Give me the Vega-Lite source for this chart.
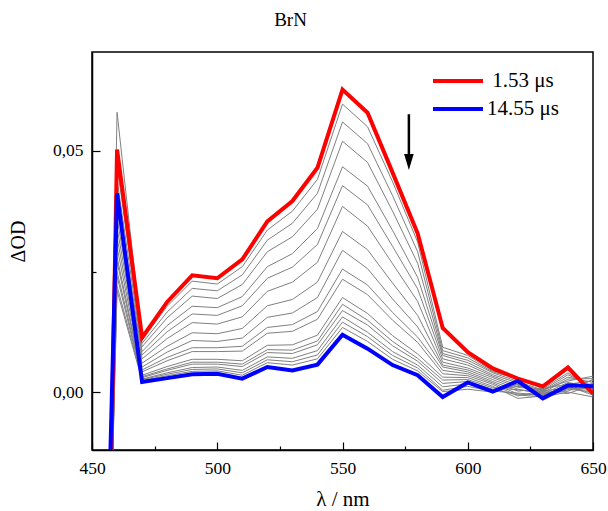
{
"$schema": "https://vega.github.io/schema/vega-lite/v6.json",
"width": 501, "height": 398,
"autosize": "none",
"padding": {"left": 92, "top": 52, "right": 15, "bottom": 61},
"background": "white",
"config": {"view": {"stroke": "black", "strokeWidth": 1.5}, "font": "Liberation Serif"},
"title": {"text": "BrN", "fontSize": 19, "font": "Liberation Serif", "fontWeight": "normal", "color": "black", "offset": 22, "dx": -52},
"datasets": {
"gray": [
{"s":"g1","x":455,"y":-0.08},{"s":"g1","x":460,"y":0.058},{"s":"g1","x":470,"y":0.0108},{"s":"g1","x":480,"y":0.0178},{"s":"g1","x":490,"y":0.0230},{"s":"g1","x":500,"y":0.0224},{"s":"g1","x":510,"y":0.0260},{"s":"g1","x":520,"y":0.0336},{"s":"g1","x":530,"y":0.0375},{"s":"g1","x":540,"y":0.0441},{"s":"g1","x":550,"y":0.0597},{"s":"g1","x":560,"y":0.0550},{"s":"g1","x":570,"y":0.0436},{"s":"g1","x":580,"y":0.0311},{"s":"g1","x":590,"y":0.0093},{"s":"g1","x":600,"y":0.0076},{"s":"g1","x":610,"y":0.0044},{"s":"g1","x":620,"y":0.0030},{"s":"g1","x":630,"y":0.0009},{"s":"g1","x":640,"y":0.0046},{"s":"g1","x":650,"y":0.0000},
{"s":"g2","x":455,"y":-0.08},{"s":"g2","x":460,"y":0.049},{"s":"g2","x":470,"y":0.0101},{"s":"g2","x":480,"y":0.0166},{"s":"g2","x":490,"y":0.0215},{"s":"g2","x":500,"y":0.0210},{"s":"g2","x":510,"y":0.0243},{"s":"g2","x":520,"y":0.0315},{"s":"g2","x":530,"y":0.0350},{"s":"g2","x":540,"y":0.0412},{"s":"g2","x":550,"y":0.0560},{"s":"g2","x":560,"y":0.0515},{"s":"g2","x":570,"y":0.0407},{"s":"g2","x":580,"y":0.0291},{"s":"g2","x":590,"y":0.0086},{"s":"g2","x":600,"y":0.0071},{"s":"g2","x":610,"y":0.0042},{"s":"g2","x":620,"y":0.0027},{"s":"g2","x":630,"y":0.0007},{"s":"g2","x":640,"y":0.0040},{"s":"g2","x":650,"y":0.0006},
{"s":"g3","x":455,"y":-0.08},{"s":"g3","x":460,"y":0.047},{"s":"g3","x":470,"y":0.0094},{"s":"g3","x":480,"y":0.0154},{"s":"g3","x":490,"y":0.0199},{"s":"g3","x":500,"y":0.0194},{"s":"g3","x":510,"y":0.0223},{"s":"g3","x":520,"y":0.0291},{"s":"g3","x":530,"y":0.0322},{"s":"g3","x":540,"y":0.0379},{"s":"g3","x":550,"y":0.0520},{"s":"g3","x":560,"y":0.0476},{"s":"g3","x":570,"y":0.0375},{"s":"g3","x":580,"y":0.0267},{"s":"g3","x":590,"y":0.0080},{"s":"g3","x":600,"y":0.0066},{"s":"g3","x":610,"y":0.0040},{"s":"g3","x":620,"y":0.0022},{"s":"g3","x":630,"y":0.0004},{"s":"g3","x":640,"y":0.0036},{"s":"g3","x":650,"y":0.0012},
{"s":"g4","x":455,"y":-0.08},{"s":"g4","x":460,"y":0.044},{"s":"g4","x":470,"y":0.0084},{"s":"g4","x":480,"y":0.0138},{"s":"g4","x":490,"y":0.0178},{"s":"g4","x":500,"y":0.0175},{"s":"g4","x":510,"y":0.0198},{"s":"g4","x":520,"y":0.0260},{"s":"g4","x":530,"y":0.0287},{"s":"g4","x":540,"y":0.0339},{"s":"g4","x":550,"y":0.0467},{"s":"g4","x":560,"y":0.0427},{"s":"g4","x":570,"y":0.0335},{"s":"g4","x":580,"y":0.0238},{"s":"g4","x":590,"y":0.0076},{"s":"g4","x":600,"y":0.0061},{"s":"g4","x":610,"y":0.0036},{"s":"g4","x":620,"y":0.0019},{"s":"g4","x":630,"y":0.0002},{"s":"g4","x":640,"y":0.0031},{"s":"g4","x":650,"y":0.0020},
{"s":"g5","x":455,"y":-0.08},{"s":"g5","x":460,"y":0.041},{"s":"g5","x":470,"y":0.0077},{"s":"g5","x":480,"y":0.0125},{"s":"g5","x":490,"y":0.0162},{"s":"g5","x":500,"y":0.0159},{"s":"g5","x":510,"y":0.0179},{"s":"g5","x":520,"y":0.0236},{"s":"g5","x":530,"y":0.0259},{"s":"g5","x":540,"y":0.0306},{"s":"g5","x":550,"y":0.0428},{"s":"g5","x":560,"y":0.0388},{"s":"g5","x":570,"y":0.0302},{"s":"g5","x":580,"y":0.0214},{"s":"g5","x":590,"y":0.0069},{"s":"g5","x":600,"y":0.0056},{"s":"g5","x":610,"y":0.0033},{"s":"g5","x":620,"y":0.0014},{"s":"g5","x":630,"y":-0.0001},{"s":"g5","x":640,"y":0.0027},{"s":"g5","x":650,"y":0.0028},
{"s":"g6","x":455,"y":-0.08},{"s":"g6","x":460,"y":0.039},{"s":"g6","x":470,"y":0.0069},{"s":"g6","x":480,"y":0.0111},{"s":"g6","x":490,"y":0.0144},{"s":"g6","x":500,"y":0.0141},{"s":"g6","x":510,"y":0.0156},{"s":"g6","x":520,"y":0.0209},{"s":"g6","x":530,"y":0.0228},{"s":"g6","x":540,"y":0.0269},{"s":"g6","x":550,"y":0.0385},{"s":"g6","x":560,"y":0.0344},{"s":"g6","x":570,"y":0.0266},{"s":"g6","x":580,"y":0.0188},{"s":"g6","x":590,"y":0.0062},{"s":"g6","x":600,"y":0.0050},{"s":"g6","x":610,"y":0.0030},{"s":"g6","x":620,"y":0.0010},{"s":"g6","x":630,"y":0.0005},{"s":"g6","x":640,"y":0.0023},{"s":"g6","x":650,"y":0.0033},
{"s":"g7","x":455,"y":-0.08},{"s":"g7","x":460,"y":0.036},{"s":"g7","x":470,"y":0.0060},{"s":"g7","x":480,"y":0.0095},{"s":"g7","x":490,"y":0.0123},{"s":"g7","x":500,"y":0.0121},{"s":"g7","x":510,"y":0.0132},{"s":"g7","x":520,"y":0.0179},{"s":"g7","x":530,"y":0.0192},{"s":"g7","x":540,"y":0.0228},{"s":"g7","x":550,"y":0.0333},{"s":"g7","x":560,"y":0.0295},{"s":"g7","x":570,"y":0.0226},{"s":"g7","x":580,"y":0.0159},{"s":"g7","x":590,"y":0.0056},{"s":"g7","x":600,"y":0.0046},{"s":"g7","x":610,"y":0.0026},{"s":"g7","x":620,"y":0.0006},{"s":"g7","x":630,"y":-0.0004},{"s":"g7","x":640,"y":0.0020},{"s":"g7","x":650,"y":0.0010},
{"s":"g8","x":455,"y":-0.08},{"s":"g8","x":460,"y":0.034},{"s":"g8","x":470,"y":0.0052},{"s":"g8","x":480,"y":0.0083},{"s":"g8","x":490,"y":0.0107},{"s":"g8","x":500,"y":0.0105},{"s":"g8","x":510,"y":0.0112},{"s":"g8","x":520,"y":0.0155},{"s":"g8","x":530,"y":0.0164},{"s":"g8","x":540,"y":0.0196},{"s":"g8","x":550,"y":0.0294},{"s":"g8","x":560,"y":0.0256},{"s":"g8","x":570,"y":0.0193},{"s":"g8","x":580,"y":0.0135},{"s":"g8","x":590,"y":0.0052},{"s":"g8","x":600,"y":0.0042},{"s":"g8","x":610,"y":0.0022},{"s":"g8","x":620,"y":0.0002},{"s":"g8","x":630,"y":0.0008},{"s":"g8","x":640,"y":0.0016},{"s":"g8","x":650,"y":0.0024},
{"s":"g9","x":455,"y":-0.08},{"s":"g9","x":460,"y":0.032},{"s":"g9","x":470,"y":0.0046},{"s":"g9","x":480,"y":0.0072},{"s":"g9","x":490,"y":0.0092},{"s":"g9","x":500,"y":0.0092},{"s":"g9","x":510,"y":0.0095},{"s":"g9","x":520,"y":0.0134},{"s":"g9","x":530,"y":0.0140},{"s":"g9","x":540,"y":0.0167},{"s":"g9","x":550,"y":0.0255},{"s":"g9","x":560,"y":0.0222},{"s":"g9","x":570,"y":0.0165},{"s":"g9","x":580,"y":0.0114},{"s":"g9","x":590,"y":0.0045},{"s":"g9","x":600,"y":0.0038},{"s":"g9","x":610,"y":0.0019},{"s":"g9","x":620,"y":-0.0004},{"s":"g9","x":630,"y":-0.0006},{"s":"g9","x":640,"y":0.0012},{"s":"g9","x":650,"y":-0.0006},
{"s":"g10","x":455,"y":-0.08},{"s":"g10","x":460,"y":0.030},{"s":"g10","x":470,"y":0.0042},{"s":"g10","x":480,"y":0.0065},{"s":"g10","x":490,"y":0.0084},{"s":"g10","x":500,"y":0.0084},{"s":"g10","x":510,"y":0.0085},{"s":"g10","x":520,"y":0.0122},{"s":"g10","x":530,"y":0.0126},{"s":"g10","x":540,"y":0.0151},{"s":"g10","x":550,"y":0.0234},{"s":"g10","x":560,"y":0.0202},{"s":"g10","x":570,"y":0.0149},{"s":"g10","x":580,"y":0.0103},{"s":"g10","x":590,"y":0.0038},{"s":"g10","x":600,"y":0.0034},{"s":"g10","x":610,"y":0.0016},{"s":"g10","x":620,"y":-0.0008},{"s":"g10","x":630,"y":0.0003},{"s":"g10","x":640,"y":0.0008},{"s":"g10","x":650,"y":0.0018},
{"s":"g11","x":455,"y":-0.08},{"s":"g11","x":460,"y":0.028},{"s":"g11","x":470,"y":0.0035},{"s":"g11","x":480,"y":0.0053},{"s":"g11","x":490,"y":0.0068},{"s":"g11","x":500,"y":0.0068},{"s":"g11","x":510,"y":0.0065},{"s":"g11","x":520,"y":0.0097},{"s":"g11","x":530,"y":0.0098},{"s":"g11","x":540,"y":0.0118},{"s":"g11","x":550,"y":0.0196},{"s":"g11","x":560,"y":0.0163},{"s":"g11","x":570,"y":0.0117},{"s":"g11","x":580,"y":0.0079},{"s":"g11","x":590,"y":0.0031},{"s":"g11","x":600,"y":0.0030},{"s":"g11","x":610,"y":0.0012},{"s":"g11","x":620,"y":-0.0013},{"s":"g11","x":630,"y":-0.0008},{"s":"g11","x":640,"y":0.0005},{"s":"g11","x":650,"y":0.0004},
{"s":"g12","x":455,"y":-0.08},{"s":"g12","x":460,"y":0.027},{"s":"g12","x":470,"y":0.0032},{"s":"g12","x":480,"y":0.0048},{"s":"g12","x":490,"y":0.0062},{"s":"g12","x":500,"y":0.0062},{"s":"g12","x":510,"y":0.0058},{"s":"g12","x":520,"y":0.0088},{"s":"g12","x":530,"y":0.0087},{"s":"g12","x":540,"y":0.0106},{"s":"g12","x":550,"y":0.0182},{"s":"g12","x":560,"y":0.0149},{"s":"g12","x":570,"y":0.0105},{"s":"g12","x":580,"y":0.0070},{"s":"g12","x":590,"y":0.0025},{"s":"g12","x":600,"y":0.0026},{"s":"g12","x":610,"y":0.0009},{"s":"g12","x":620,"y":0.0005},{"s":"g12","x":630,"y":-0.0002},{"s":"g12","x":640,"y":0.0002},{"s":"g12","x":650,"y":0.0026},
{"s":"g13","x":455,"y":-0.08},{"s":"g13","x":460,"y":0.025},{"s":"g13","x":470,"y":0.0030},{"s":"g13","x":480,"y":0.0045},{"s":"g13","x":490,"y":0.0058},{"s":"g13","x":500,"y":0.0058},{"s":"g13","x":510,"y":0.0053},{"s":"g13","x":520,"y":0.0082},{"s":"g13","x":530,"y":0.0080},{"s":"g13","x":540,"y":0.0098},{"s":"g13","x":550,"y":0.0169},{"s":"g13","x":560,"y":0.0139},{"s":"g13","x":570,"y":0.0096},{"s":"g13","x":580,"y":0.0064},{"s":"g13","x":590,"y":0.0018},{"s":"g13","x":600,"y":0.0022},{"s":"g13","x":610,"y":0.0006},{"s":"g13","x":620,"y":-0.0006},{"s":"g13","x":630,"y":-0.0010},{"s":"g13","x":640,"y":0.0000},{"s":"g13","x":650,"y":-0.0010},
{"s":"g14","x":455,"y":-0.08},{"s":"g14","x":460,"y":0.024},{"s":"g14","x":470,"y":0.0027},{"s":"g14","x":480,"y":0.0040},{"s":"g14","x":490,"y":0.0051},{"s":"g14","x":500,"y":0.0052},{"s":"g14","x":510,"y":0.0045},{"s":"g14","x":520,"y":0.0073},{"s":"g14","x":530,"y":0.0070},{"s":"g14","x":540,"y":0.0086},{"s":"g14","x":550,"y":0.0156},{"s":"g14","x":560,"y":0.0124},{"s":"g14","x":570,"y":0.0084},{"s":"g14","x":580,"y":0.0056},{"s":"g14","x":590,"y":0.0011},{"s":"g14","x":600,"y":0.0017},{"s":"g14","x":610,"y":0.0004},{"s":"g14","x":620,"y":0.0012},{"s":"g14","x":630,"y":0.0001},{"s":"g14","x":640,"y":-0.0003},{"s":"g14","x":650,"y":0.0015},
{"s":"g15","x":455,"y":-0.08},{"s":"g15","x":460,"y":0.022},{"s":"g15","x":470,"y":0.0026},{"s":"g15","x":480,"y":0.0037},{"s":"g15","x":490,"y":0.0047},{"s":"g15","x":500,"y":0.0048},{"s":"g15","x":510,"y":0.0040},{"s":"g15","x":520,"y":0.0067},{"s":"g15","x":530,"y":0.0063},{"s":"g15","x":540,"y":0.0077},{"s":"g15","x":550,"y":0.0145},{"s":"g15","x":560,"y":0.0115},{"s":"g15","x":570,"y":0.0076},{"s":"g15","x":580,"y":0.0050},{"s":"g15","x":590,"y":0.0004},{"s":"g15","x":600,"y":0.0012},{"s":"g15","x":610,"y":0.0002},{"s":"g15","x":620,"y":-0.0002},{"s":"g15","x":630,"y":-0.0007},{"s":"g15","x":640,"y":0.0007},{"s":"g15","x":650,"y":0.0008},
{"s":"g16","x":455,"y":-0.08},{"s":"g16","x":460,"y":0.021},{"s":"g16","x":470,"y":0.0024},{"s":"g16","x":480,"y":0.0034},{"s":"g16","x":490,"y":0.0043},{"s":"g16","x":500,"y":0.0044},{"s":"g16","x":510,"y":0.0035},{"s":"g16","x":520,"y":0.0061},{"s":"g16","x":530,"y":0.0056},{"s":"g16","x":540,"y":0.0069},{"s":"g16","x":550,"y":0.0134},{"s":"g16","x":560,"y":0.0105},{"s":"g16","x":570,"y":0.0068},{"s":"g16","x":580,"y":0.0044},{"s":"g16","x":590,"y":0.0001},{"s":"g16","x":600,"y":0.0006},{"s":"g16","x":610,"y":0.0000},{"s":"g16","x":620,"y":0.0016},{"s":"g16","x":630,"y":-0.0004},{"s":"g16","x":640,"y":0.0010},{"s":"g16","x":650,"y":-0.0002}
],
"main": [
{"s":"1.53 μs","x":455,"y":-0.09},{"s":"1.53 μs","x":460,"y":0.0503},{"s":"1.53 μs","x":470,"y":0.0113},{"s":"1.53 μs","x":480,"y":0.0187},{"s":"1.53 μs","x":490,"y":0.0242},{"s":"1.53 μs","x":500,"y":0.0236},{"s":"1.53 μs","x":510,"y":0.0275},{"s":"1.53 μs","x":520,"y":0.0354},{"s":"1.53 μs","x":530,"y":0.0396},{"s":"1.53 μs","x":540,"y":0.0465},{"s":"1.53 μs","x":550,"y":0.0627},{"s":"1.53 μs","x":560,"y":0.0579},{"s":"1.53 μs","x":570,"y":0.0455},{"s":"1.53 μs","x":580,"y":0.0329},{"s":"1.53 μs","x":590,"y":0.0133},{"s":"1.53 μs","x":600,"y":0.0083},{"s":"1.53 μs","x":610,"y":0.0049},{"s":"1.53 μs","x":620,"y":0.0028},{"s":"1.53 μs","x":630,"y":0.0012},{"s":"1.53 μs","x":640,"y":0.0051},{"s":"1.53 μs","x":650,"y":-0.0003},
{"s":"14.55 μs","x":455,"y":-0.06},{"s":"14.55 μs","x":460,"y":0.0412},{"s":"14.55 μs","x":470,"y":0.0021},{"s":"14.55 μs","x":480,"y":0.0029},{"s":"14.55 μs","x":490,"y":0.0037},{"s":"14.55 μs","x":500,"y":0.0038},{"s":"14.55 μs","x":510,"y":0.0028},{"s":"14.55 μs","x":520,"y":0.0052},{"s":"14.55 μs","x":530,"y":0.0045},{"s":"14.55 μs","x":540,"y":0.0057},{"s":"14.55 μs","x":550,"y":0.0119},{"s":"14.55 μs","x":560,"y":0.0090},{"s":"14.55 μs","x":570,"y":0.0056},{"s":"14.55 μs","x":580,"y":0.0035},{"s":"14.55 μs","x":590,"y":-0.0010},{"s":"14.55 μs","x":600,"y":0.0020},{"s":"14.55 μs","x":610,"y":0.0001},{"s":"14.55 μs","x":620,"y":0.0023},{"s":"14.55 μs","x":630,"y":-0.0013},{"s":"14.55 μs","x":640,"y":0.0014},{"s":"14.55 μs","x":650,"y":0.0012}
],
"arrow": [{"x":576.5,"y":0.0576,"y2":0.0485}],
"head": [{"x":576.5,"y":0.0477}]
},
"layer": [
{"data": {"name": "gray"},
 "mark": {"type": "line", "stroke": "#808080", "strokeWidth": 1, "clip": true},
 "encoding": {
  "x": {"field": "x", "type": "quantitative", "scale": {"domain": [450, 650], "nice": false, "zero": false},
   "axis": {"title": "λ / nm", "values": [450,475,500,525,550,575,600,625,650], "labelExpr": "datum.value % 50 == 0 ? datum.label : ''", "tickSize": {"condition": {"test": "datum.value % 50 == 0", "value": -8}, "value": -4}, "grid": false, "domainColor": "black", "domainWidth": 1.5, "tickColor": "black", "tickWidth": 1.2, "labelFont": "Liberation Serif", "labelFontSize": 17.5, "labelColor": "black", "labelFlush": false, "labelOverlap": false, "labelPadding": 17, "titleFont": "Liberation Serif", "titleFontSize": 21, "titleFontWeight": "normal", "titleColor": "black", "titlePadding": 8}},
  "y": {"field": "y", "type": "quantitative", "scale": {"domain": [-0.012, 0.0705], "nice": false, "zero": false},
   "axis": {"title": "ΔOD", "values": [0, 0.025, 0.05], "labelExpr": "datum.value == 0.025 ? '' : replace(format(datum.value, '.2f'), '.', ',')", "tickSize": {"condition": {"test": "datum.value == 0.025", "value": -4}, "value": -8}, "grid": false, "domainColor": "black", "domainWidth": 1.5, "tickColor": "black", "tickWidth": 1.2, "labelFont": "Liberation Serif", "labelFontSize": 17.5, "labelColor": "black", "labelFlush": false, "labelOverlap": false, "labelPadding": 17, "titleFont": "Liberation Serif", "titleFontSize": 20, "titleFontWeight": "normal", "titleColor": "black", "titlePadding": 24, "titleY": 189}},
  "detail": {"field": "s", "type": "nominal"}
 }},
{"data": {"name": "main"},
 "mark": {"type": "line", "strokeWidth": 4, "clip": true},
 "encoding": {
  "x": {"field": "x", "type": "quantitative"},
  "y": {"field": "y", "type": "quantitative"},
  "color": {"field": "s", "type": "nominal", "scale": {"domain": ["1.53 μs", "14.55 μs"], "range": ["#ff0000", "#0000ff"]},
   "legend": {"orient": "none", "legendX": 339, "legendY": 15, "title": null, "symbolType": "stroke", "symbolSize": 2500, "symbolStrokeWidth": 4, "labelFont": "Liberation Serif", "labelFontSize": 21, "labelColor": "black", "labelAlign": "center", "labelOffset": 38, "clipHeight": 28, "rowPadding": 0, "padding": 0}}
 }},
{"data": {"name": "arrow"},
 "mark": {"type": "rule", "strokeWidth": 2.5, "color": "black"},
 "encoding": {"x": {"field": "x", "type": "quantitative"}, "y": {"field": "y", "type": "quantitative"}, "y2": {"field": "y2"}}},
{"data": {"name": "head"},
 "mark": {"type": "point", "shape": "M-0.6,-1L0.6,-1L0,1Z", "filled": true, "color": "black", "size": 256, "opacity": 1},
 "encoding": {"x": {"field": "x", "type": "quantitative"}, "y": {"field": "y", "type": "quantitative"}}}
]
}
